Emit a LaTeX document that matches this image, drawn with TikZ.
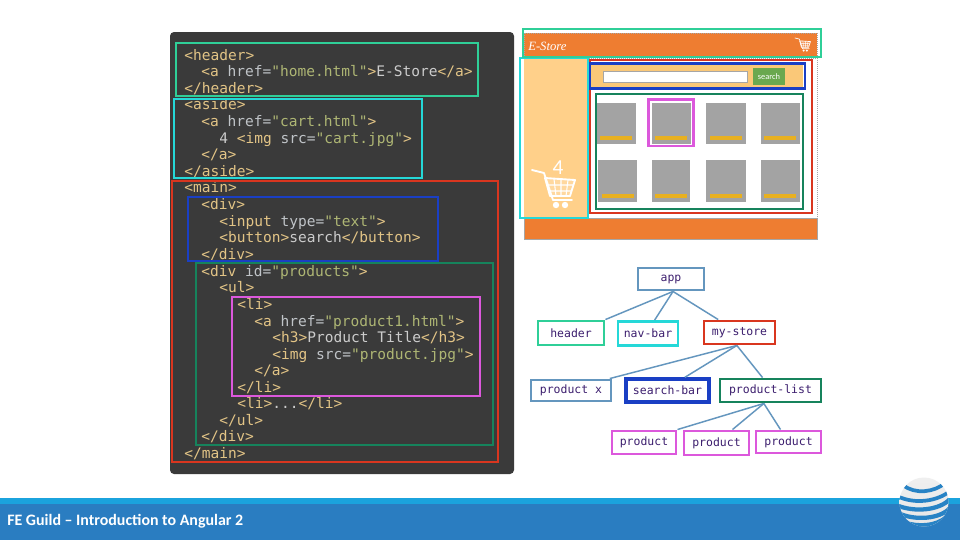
\documentclass[tikz,border=0pt]{standalone}
\usepackage{fontspec}
\setmainfont{Carlito}
\newfontfamily\codefont{DejaVu Sans Mono}
\newfontfamily\wirefont{Liberation Serif}
\definecolor{codebg}{HTML}{3A3A3A}
\definecolor{tagc}{HTML}{E2C486}
\definecolor{attrc}{HTML}{C0C4C8}
\definecolor{strc}{HTML}{AEB674}
\definecolor{txtc}{HTML}{CCCCCC}
\definecolor{cheader}{HTML}{2FCF98}
\definecolor{caside}{HTML}{25D8D8}
\definecolor{cmain}{HTML}{D9361F}
\definecolor{cblue}{HTML}{1A3FC4}
\definecolor{cgreen}{HTML}{16835C}
\definecolor{cpink}{HTML}{DC58DC}
\definecolor{capp}{HTML}{6496BE}
\definecolor{orangew}{HTML}{EE7D31}
\definecolor{sidew}{HTML}{FFD08A}
\definecolor{barw}{HTML}{FAC878}
\definecolor{grayw}{HTML}{A3A3A3}
\definecolor{yelw}{HTML}{E8B020}
\definecolor{greenw}{HTML}{6AA84F}
\definecolor{treetxt}{HTML}{3C1E6E}
\definecolor{footl}{HTML}{1BA3DD}
\definecolor{footd}{HTML}{2A7DC1}
\newcommand\tg[1]{\textcolor{tagc}{#1}}
\newcommand\at[1]{\textcolor{attrc}{#1}}
\newcommand\st[1]{\textcolor{strc}{#1}}
\newcommand\tx[1]{\textcolor{txtc}{#1}}
\newcommand\cartat[3]{%
  \begin{scope}[shift={(#1,#2)},scale=#3]
    \draw[white,line width=1.4pt*#3,line cap=round,line join=round] (-14,-39)--(-2,-36)--(7,-9)--(26,-9);
    \draw[white,line width=1.4pt*#3,line join=round,fill=white,fill opacity=.18] (-1,-31)--(29,-29)--(24,-13)--(4,-13)--cycle;
    \draw[white,line width=.8pt*#3] (1,-24)--(27,-24) (3,-18)--(25,-18) (8,-30)--(10,-13) (15,-30)--(15,-13) (22,-29)--(20,-13);
    \fill[white] (10,-4) circle[radius=3.2] (19,-4) circle[radius=3.2];
  \end{scope}}
\tikzset{
  x=0.75pt,y=-0.75pt,
  codeline/.style={anchor=base west,inner sep=0pt,yshift=-1.3pt,font=\codefont\fontsize{10.9pt}{12pt}\selectfont},
  codebox/.style={line width=1.5pt},
  wirebox/.style={line width=1.9pt},
  treebox/.style={draw,fill=white,line width=2.2pt,inner sep=0pt,text=treetxt,
    font=\codefont\fontsize{8.6pt}{10pt}\selectfont},
  treeline/.style={draw=capp,line width=1.1pt},
  dotline/.style={draw=gray!70,line width=.5pt,densely dotted}
}
\begin{document}
\begin{tikzpicture}
\useasboundingbox (0,0) rectangle (960,540);
\fill[white] (0,0) rectangle (960,540);
% footer
\fill[footl] (0,498) rectangle (960,504);
\fill[footd] (0,504) rectangle (960,540);
\node[anchor=base west,inner sep=0pt,text=white,font=\bfseries\fontsize{11.95pt}{14pt}\selectfont] (foot) at (7,525) {FE Guild – Introduction to Angular 2};
% globe
\begin{scope}
\clip (924,502) circle[radius=24.5];
\shade[top color=white!88!gray,bottom color=white!80!gray] (899,477) rectangle (949,527);
\begin{scope}[line width=2.8pt,draw=footd!85!footl]
\draw (903,485) .. controls (915,495) and (935,492) .. (945,483);
\draw (897,496) .. controls (915,505) and (938,501) .. (950,491);
\draw[line width=3.2pt] (896,505) .. controls (915,513) and (940,510) .. (950,499);
\draw[line width=3.2pt] (898,513) .. controls (915,521) and (940,519) .. (950,508);
\draw (904,522) .. controls (918,527) and (936,526) .. (946,517);
\end{scope}
\end{scope}
% code panel
\fill[codebg,rounded corners=3pt] (170,32) rectangle (514,474);
\node[codeline] (l1) at (184,58.5) {\tg{<header>}};
\node[codeline] (l2) at (201,75) {\tg{<a} \at{href=}\st{"home.html"}\tg{>}\tx{E-Store}\tg{</a>}};
\node[codeline] (l3) at (184,91.5) {\tg{</header>}};
\node[codeline] (l4) at (184,108) {\tg{<aside>}};
\node[codeline] (l5) at (201,125) {\tg{<a} \at{href=}\st{"cart.html"}\tg{>}};
\node[codeline] (l6) at (219,141.5) {\tx{4} \tg{<img} \at{src=}\st{"cart.jpg"}\tg{>}};
\node[codeline] (l7) at (201,158) {\tg{</a>}};
\node[codeline] (l8) at (184,174.5) {\tg{</aside>}};
\node[codeline] (l9) at (184,191) {\tg{<main>}};
\node[codeline] (l10) at (201,208) {\tg{<div>}};
\node[codeline] (l11) at (219,224.5) {\tg{<input} \at{type=}\st{"text"}\tg{>}};
\node[codeline] (l12) at (219,241) {\tg{<button>}\tx{search}\tg{</button>}};
\node[codeline] (l13) at (201,258) {\tg{</div>}};
\node[codeline] (l14) at (201,274.5) {\tg{<div} \at{id=}\st{"products"}\tg{>}};
\node[codeline] (l15) at (219,291) {\tg{<ul>}};
\node[codeline] (l16) at (237,307.5) {\tg{<li>}};
\node[codeline] (l17) at (254,324.5) {\tg{<a} \at{href=}\st{"product1.html"}\tg{>}};
\node[codeline] (l18) at (272,341) {\tg{<h3>}\tx{Product Title}\tg{</h3>}};
\node[codeline] (l19) at (272,357.5) {\tg{<img} \at{src=}\st{"product.jpg"}\tg{>}};
\node[codeline] (l20) at (254,374) {\tg{</a>}};
\node[codeline] (l21) at (237,390.5) {\tg{</li>}};
\node[codeline] (l22) at (237,407) {\tg{<li>}\tx{...}\tg{</li>}};
\node[codeline] (l23) at (219,423.5) {\tg{</ul>}};
\node[codeline] (l24) at (201,440) {\tg{</div>}};
\node[codeline] (l25) at (184,457) {\tg{</main>}};
% code overlays
\draw[codebox,cheader] (176,43) rectangle (478,96);
\draw[codebox,caside] (174,99) rectangle (422,178);
\draw[codebox,cmain] (172,181) rectangle (498,462);
\draw[codebox,cblue,line width=2pt] (188,197) rectangle (438,261);
\draw[codebox,cgreen] (196,263) rectangle (493,445);
\draw[codebox,cpink,line width=1.8pt] (232,297) rectangle (480,396);
% wireframe
\fill[orangew] (524,33) rectangle (817,56);
\fill[orangew] (524,218) rectangle (817,239);
\draw[gray!70,line width=.4pt] (524,218) rectangle (817,239);
\fill[sidew] (524,57) rectangle (588,217);
\fill[barw] (591,64) rectangle (803,88);
\fill[white,draw=gray!70,line width=.4pt] (603,71) rectangle (747,82);
\node[fill=greenw,text=white,inner sep=0pt,minimum width=32*0.75pt,minimum height=17*0.75pt,font=\fontsize{6.3pt}{8pt}\selectfont] (srch) at (769,76.5) {search};
\foreach \xa/\xb in {596/636,652/691,706/746,761/800}{\fill[grayw] (\xa,103) rectangle (\xb,144);}
\foreach \xa/\xb in {598/637,652/690,706/746,761/800}{\fill[grayw] (\xa,160) rectangle (\xb,202);}
\foreach \xa/\xb in {600/632,655/687,710/742,764/796}{\fill[yelw] (\xa,136) rectangle (\xb,139.5);}
\foreach \xa/\xb in {602/634,655/687,710/742,764/796}{\fill[yelw] (\xa,194) rectangle (\xb,198);}
\node[anchor=base west,inner sep=0pt,text=white,font=\wirefont\itshape\fontsize{9.5pt}{11pt}\selectfont] (estore) at (528,50) {E-Store};
\node[inner sep=0pt,text=white,font=\fontsize{16pt}{18pt}\selectfont] (cartnum) at (558,168) {4};
\cartat{546}{209}{1}
\cartat{800}{52}{.36}
\draw[dotline] (524,33) rectangle (817,56);
\draw[dotline] (520,58) rectangle (817,218);
\draw[wirebox,cmain] (590,60) rectangle (812,213);
\draw[wirebox,cblue] (590,63.5) rectangle (805,88.5);
\draw[wirebox,cgreen] (596,94) rectangle (803,209);
\draw[wirebox,cpink] (648.5,99.5) rectangle (693.5,146);
\draw[wirebox,caside,line width=2.2pt] (520,58) rectangle (588,218);
\draw[wirebox,cheader,line width=2.2pt] (523,29) rectangle (821,57);
% tree
\node[treebox,draw=capp,minimum width=66*0.75pt,minimum height=22*0.75pt] (app) at (671,279) {app};
\node[treebox,draw=cheader,minimum width=66*0.75pt,minimum height=24*0.75pt] (hdr) at (571,333) {header};
\node[treebox,draw=caside,minimum width=60*0.75pt,minimum height=24*0.75pt] (nav) at (648,333.5) {nav-bar};
\node[treebox,draw=cmain,minimum width=71*0.75pt,minimum height=23*0.75pt] (store) at (739.5,332.5) {my-store};
\node[treebox,draw=capp,minimum width=80*0.75pt,minimum height=21*0.75pt] (px) at (571,390.5) {product x};
\node[treebox,draw=cblue,line width=2.5pt,minimum width=83*0.75pt,minimum height=23*0.75pt] (sb) at (667.5,390.5) {search-bar};
\node[treebox,draw=cgreen,minimum width=101*0.75pt,minimum height=23*0.75pt] (pl) at (770.5,390.5) {product-list};
\node[treebox,draw=cpink,minimum width=64*0.75pt,minimum height=23*0.75pt] (p1) at (644,442.5) {product};
\node[treebox,draw=cpink,minimum width=65*0.75pt,minimum height=24*0.75pt] (p2) at (716.5,443) {product};
\node[treebox,draw=cpink,minimum width=65*0.75pt,minimum height=22*0.75pt] (p3) at (788.5,442) {product};
\draw[treeline] ([xshift=1.5pt]app.south) -- (hdr.north east);
\draw[treeline] ([xshift=1.5pt]app.south) -- ([xshift=5pt]nav.north);
\draw[treeline] ([xshift=1.5pt]app.south) -- ([xshift=-16pt]store.north);
\draw[treeline] ([xshift=-2pt]store.south) -- ([xshift=-2pt]px.north east);
\draw[treeline] ([xshift=-2pt]store.south) -- ([xshift=13pt]sb.north);
\draw[treeline] ([xshift=-2pt]store.south) -- ([xshift=-6pt]pl.north);
\draw[treeline] ([xshift=-5pt]pl.south) -- (p1.north east);
\draw[treeline] ([xshift=-5pt]pl.south) -- ([xshift=12pt]p2.north);
\draw[treeline] ([xshift=-5pt]pl.south) -- ([xshift=-6pt]p3.north);
\end{tikzpicture}
\end{document}
